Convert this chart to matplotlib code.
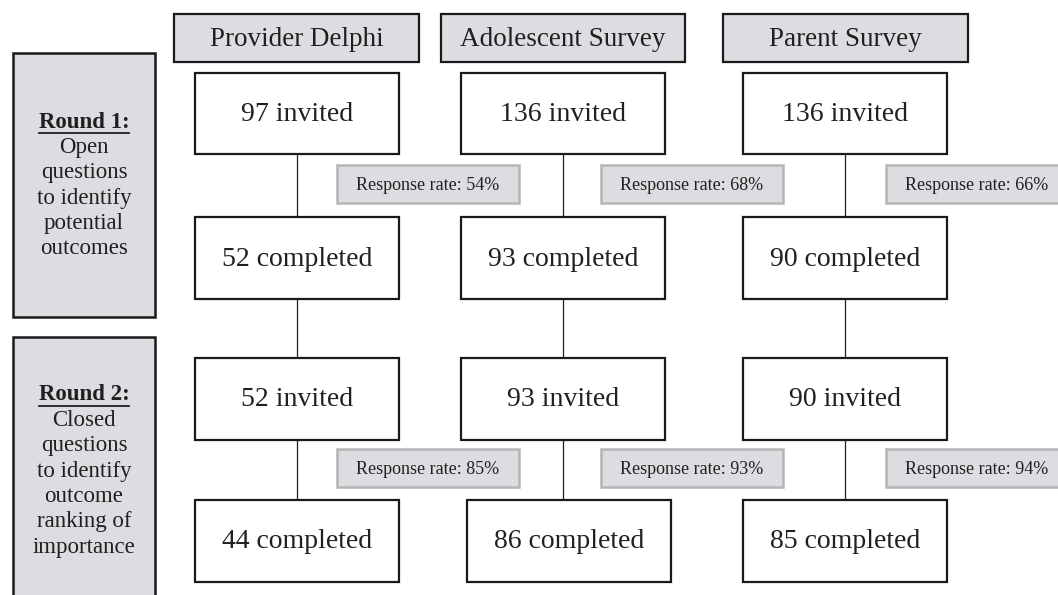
import matplotlib.pyplot as plt
from matplotlib.patches import Rectangle

# chart content
sources = ['Provider Delphi', 'Adolescent Survey', 'Parent Survey']
r1_invited = [97, 136, 136]
r1_completed = [52, 93, 90]
r2_invited = [52, 93, 90]
r2_completed = [44, 86, 85]
r1_rate = [54, 68, 66]
r2_rate = [85, 93, 94]
round_titles = ['Round 1:', 'Round 2:']
round_texts = [['Open', 'questions', 'to identify', 'potential', 'outcomes'],
               ['Closed', 'questions', 'to identify', 'outcome', 'ranking of',
                'importance']]

serif = 'Liberation Serif'
grey = '#dcdde0'

fig = plt.figure(figsize=(10.58, 5.95), dpi=100)
ax = fig.add_axes([0, 0, 1, 1])
ax.set_xlim(0, 1058)
ax.set_ylim(595, 0)
ax.axis('off')


def box(x0, y0, x1, y1, text=None, fc='white', ec='#1a1a1a', lw=1.6, size=20):
    ax.add_patch(Rectangle((x0, y0), x1 - x0, y1 - y0, facecolor=fc,
                           edgecolor=ec, linewidth=lw, zorder=2))
    if text is not None:
        ax.text((x0 + x1) / 2, (y0 + y1) / 2 + 1, text, ha='center', va='center',
                fontsize=size, family=serif, color='#231f20', zorder=3)


# column layout
centers = [297, 563, 845]
head_x = [(174, 419), (441, 685), (723, 968)]
half_w = 102
rows = {'inv1': (73, 154), 'comp1': (217, 299), 'inv2': (358, 440), 'comp2': (500, 582)}
rate_left = [337, 601, 886]
rate_w = 182

for i, name in enumerate(sources):
    cx = centers[i]
    # header
    box(head_x[i][0], 14, head_x[i][1], 62, name, fc=grey, size=19.5)

    # connector lines
    for top, bot in [('inv1', 'comp1'), ('comp1', 'inv2'), ('inv2', 'comp2')]:
        ax.plot([cx, cx], [rows[top][1], rows[bot][0]], color='#231f20',
                lw=0.9, zorder=1)

    vals = [('inv1', f'{r1_invited[i]} invited'),
            ('comp1', f'{r1_completed[i]} completed'),
            ('inv2', f'{r2_invited[i]} invited'),
            ('comp2', f'{r2_completed[i]} completed')]
    for key, label in vals:
        y0, y1 = rows[key]
        off = 6 if (key == 'comp2' and i == 1) else 0
        box(cx - half_w + off, y0, cx + half_w + off, y1, label, size=20)

    # response rate boxes
    for (y0, y1), rate in [((165, 203), r1_rate[i]), ((449, 487), r2_rate[i])]:
        box(rate_left[i], y0, rate_left[i] + rate_w, y1,
            f'Response rate: {rate}%', fc=grey, ec='#b5b5b5', lw=1.8, size=13)

# round boxes on the left
round_boxes = [(53, 317), (337, 610)]
title_y = [122, 395]
line_step = 25.4
for k in range(2):
    y0, y1 = round_boxes[k]
    box(13, y0, 155, y1, fc=grey, lw=1.8)
    ax.text(84, title_y[k], round_titles[k], ha='center', va='center',
            fontsize=16.5, family=serif, fontweight='bold', color='#231f20', zorder=3)
    ax.plot([39, 129], [title_y[k] + 11, title_y[k] + 11], color='#231f20',
            lw=1.3, zorder=3)
    for j, line in enumerate(round_texts[k]):
        ax.text(84, title_y[k] + (j + 1) * line_step, line, ha='center',
                va='center', fontsize=16.5, family=serif, color='#231f20', zorder=3)

fig.savefig('out.png', dpi=100)
plt.close(fig)
